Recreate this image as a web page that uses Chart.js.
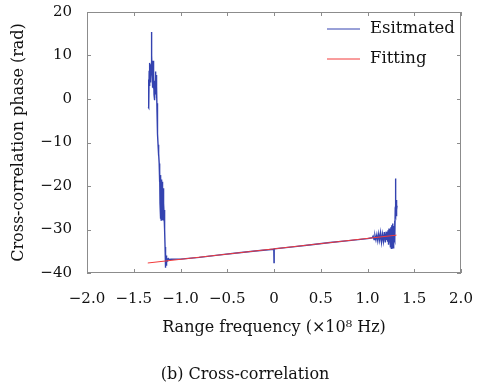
<!DOCTYPE html>
<html>
<head>
<meta charset="utf-8">
<script src="https://cdn.jsdelivr.net/npm/chart.js@4.4.1/dist/chart.umd.min.js"></script>
<style>
  html, body { margin: 0; padding: 0; background: #fff; }
  canvas { display: block; }
</style>
</head>
<body>
<canvas id="phase-chart" width="477" height="387"></canvas>
<script>
// estimated cross-correlation phase
const estFreq = [
  -1.345, -1.343, -1.341, -1.339, -1.337, -1.335, -1.333, -1.331, -1.329, -1.327,
  -1.325, -1.323, -1.321, -1.319, -1.317, -1.315, -1.313, -1.311, -1.309, -1.307,
  -1.305, -1.303, -1.301, -1.299, -1.297, -1.295, -1.293, -1.291, -1.289, -1.287,
  -1.285, -1.283, -1.281, -1.279, -1.277, -1.275, -1.273, -1.271, -1.269, -1.267,
  -1.265, -1.263, -1.261, -1.259, -1.257, -1.255, -1.253, -1.251, -1.249, -1.247,
  -1.245, -1.243, -1.240, -1.237, -1.234, -1.231, -1.228, -1.225, -1.223, -1.221,
  -1.219, -1.217, -1.215, -1.213, -1.211, -1.209, -1.207, -1.205, -1.203, -1.201,
  -1.199, -1.197, -1.195, -1.193, -1.191, -1.189, -1.187, -1.185, -1.183, -1.181,
  -1.179, -1.177, -1.175, -1.173, -1.171, -1.169, -1.167, -1.165, -1.163, -1.161,
  -1.159, -1.157, -1.155, -1.153, -1.151, -1.149, -1.147, -1.145, -1.142, -1.139,
  -1.135, -1.130, -1.120, -1.100, -1.000, -0.800, -0.600, -0.400, -0.200, -0.004,
  -0.002, 0.000, 0.002, 0.200, 0.400, 0.600, 0.800, 1.000, 1.050, 1.060,
  1.070, 1.080, 1.090, 1.100, 1.110, 1.120, 1.130, 1.140, 1.150, 1.160,
  1.170, 1.180, 1.190, 1.200, 1.205, 1.210, 1.215, 1.220, 1.225, 1.230,
  1.235, 1.240, 1.245, 1.250, 1.255, 1.260, 1.265, 1.270, 1.275, 1.280,
  1.285, 1.290, 1.293, 1.296, 1.298, 1.300, 1.302, 1.304, 1.306, 1.308,
  1.310, 1.312, 1.314, 1.316
];
const estPhase = [
  -1.8, 2.0, -1.0, 4.5, -2.0, 6.5, 3.0, 7.8, 4.2, 8.3,
  5.0, 7.2, 3.8, 8.0, 4.6, 6.8, 9.5, 5.5, 12.5, 15.4,
  10.0, 6.0, 8.6, 3.2, 7.9, 2.6, 8.8, 4.0, 7.0, 2.4,
  5.8, 1.0, 4.2, 0.5, 3.6, -0.3, 2.8, 1.2, 6.0, 3.4,
  6.3, 2.0, 5.5, 1.5, 3.5, 0.2, 2.8, -3.0, -1.0, -6.5,
  -5.0, -8.0, -10.5, -11.0, -13.0, -12.5, -14.8, -15.5, -19.0, -16.5,
  -24.0, -18.0, -27.5, -20.0, -26.0, -17.5, -27.8, -19.5, -25.0, -18.5,
  -27.6, -21.0, -26.5, -19.0, -27.9, -22.0, -27.0, -20.5, -26.2, -23.5,
  -27.5, -24.0, -27.0, -25.5, -27.2, -26.0, -30.0, -34.0, -37.5, -36.0,
  -38.8, -35.5, -38.2, -36.0, -37.8, -36.3, -37.5, -36.5, -37.2, -36.6,
  -37.0, -36.7, -36.9, -36.85, -36.8, -36.4, -35.9, -35.4, -34.95, -34.55,
  -34.5, -37.6, -34.45, -34.0, -33.5, -33.0, -32.55, -32.1, -31.9, -31.5,
  -32.3, -31.4, -32.4, -31.2, -32.6, -31.0, -32.5, -30.8, -32.9, -31.1,
  -32.7, -30.6, -33.0, -30.5, -32.4, -30.9, -32.8, -30.2, -33.5, -29.8,
  -33.0, -30.0, -34.0, -29.5, -34.3, -29.0, -33.5, -28.6, -34.2, -29.2,
  -32.0, -28.0, -32.5, -26.0, -18.3, -22.0, -26.5, -23.5, -26.8, -23.2,
  -26.0, -24.0, -25.5, -24.5
];
// linear fit end points
const fitFreq = [-1.35, 1.31];
const fitPhase = [-37.7, -31.3];

const seriesNames = ['Esitmated', 'Fitting'];
const xTickLabels = ['\u22122.0', '\u22121.5', '\u22121.0', '\u22120.5', '0', '0.5', '1.0', '1.5', '2.0'];
const yTickLabels = ['\u221240', '\u221230', '\u221220', '\u221210', '0', '10', '20'];
const caption = '(b) Cross-correlation';

const BLUE = '#3443b0';
const RED = '#f23a3a';
const FRAME = '#8c8c8c';
const FONT = "'DejaVu Serif', serif";

function toPoints(xs, ys) {
  return xs.map((x, i) => ({ x: x, y: ys[i] }));
}

// box round the plot area with short inward ticks on all four sides
const framePlugin = {
  id: 'frame',
  afterDraw(chart) {
    const { ctx, chartArea: a, scales } = chart;
    const len = 4;
    ctx.save();
    ctx.strokeStyle = FRAME;
    ctx.lineWidth = 1;
    ctx.strokeRect(a.left + 0.5, a.top + 0.5, a.right - a.left - 1, a.bottom - a.top - 1);
    ctx.beginPath();
    scales.x.ticks.forEach(t => {
      const px = Math.round(scales.x.getPixelForValue(t.value)) + 0.5;
      ctx.moveTo(px, a.bottom); ctx.lineTo(px, a.bottom - len);
      ctx.moveTo(px, a.top); ctx.lineTo(px, a.top + len);
    });
    scales.y.ticks.forEach(t => {
      const py = Math.round(scales.y.getPixelForValue(t.value)) + 0.5;
      ctx.moveTo(a.left, py); ctx.lineTo(a.left + len, py);
      ctx.moveTo(a.right, py); ctx.lineTo(a.right - len, py);
    });
    ctx.stroke();
    ctx.restore();
  }
};

// legend in the upper right corner (no box) and the figure caption
const legendPlugin = {
  id: 'cornerLegend',
  afterDraw(chart) {
    const { ctx, chartArea: a } = chart;
    ctx.save();
    ctx.font = '16.5px ' + FONT;
    ctx.textBaseline = 'middle';
    chart.data.datasets.forEach((ds, i) => {
      const y = a.top + 16.5 + i * 30;
      ctx.strokeStyle = ds.borderColor;
      ctx.lineWidth = 1;
      ctx.beginPath();
      ctx.moveTo(a.right - 134, y + 0.5);
      ctx.lineTo(a.right - 101, y + 0.5);
      ctx.stroke();
      ctx.fillStyle = '#111';
      ctx.fillText(ds.label, a.right - 91, y);
    });
    ctx.font = '16px ' + FONT;
    ctx.textAlign = 'center';
    ctx.fillText(caption, 245, chart.height - 12);
    ctx.restore();
  }
};

// invisible tick marks give the label offset without extra edge padding
const hiddenGrid = (len) => ({
  display: true,
  drawOnChartArea: false,
  drawTicks: true,
  tickLength: len,
  color: 'rgba(0,0,0,0)'
});

new Chart(document.getElementById('phase-chart'), {
  type: 'line',
  data: {
    datasets: [
      {
        label: seriesNames[0],
        data: toPoints(estFreq, estPhase),
        borderColor: BLUE,
        borderWidth: 1.4,
        pointRadius: 0,
        tension: 0,
        order: 1
      },
      {
        label: seriesNames[1],
        data: toPoints(fitFreq, fitPhase),
        borderColor: RED,
        borderWidth: 1,
        pointRadius: 0,
        tension: 0,
        order: 0
      }
    ]
  },
  options: {
    responsive: false,
    animation: false,
    layout: { padding: { top: 12, right: 16, left: 0, bottom: 44 } },
    plugins: {
      legend: { display: false },
      tooltip: { enabled: false }
    },
    scales: {
      x: {
        type: 'linear',
        min: -2,
        max: 2,
        grid: hiddenGrid(17),
        border: { display: false },
        afterFit(scale) { scale.height = 70; },
        ticks: {
          stepSize: 0.5,
          padding: 0,
          maxRotation: 0,
          color: '#111',
          font: { family: FONT, size: 15 },
          callback: (v) => xTickLabels[Math.round((v + 2) / 0.5)]
        },
        title: {
          display: true,
          text: 'Range frequency (\u00d710\u2078 Hz)',
          color: '#111',
          font: { family: FONT, size: 16 },
          padding: { top: 0, bottom: 6 }
        }
      },
      y: {
        min: -40,
        max: 20,
        grid: hiddenGrid(15),
        border: { display: false },
        afterFit(scale) { scale.width = 87; },
        ticks: {
          stepSize: 10,
          padding: 0,
          color: '#111',
          font: { family: FONT, size: 15 },
          callback: (v) => yTickLabels[Math.round((v + 40) / 10)]
        },
        title: {
          display: true,
          text: 'Cross-correlation phase (rad)',
          color: '#111',
          font: { family: FONT, size: 16 },
          padding: { top: 9, bottom: 0 }
        }
      }
    }
  },
  plugins: [framePlugin, legendPlugin]
});
</script>
</body>
</html>
